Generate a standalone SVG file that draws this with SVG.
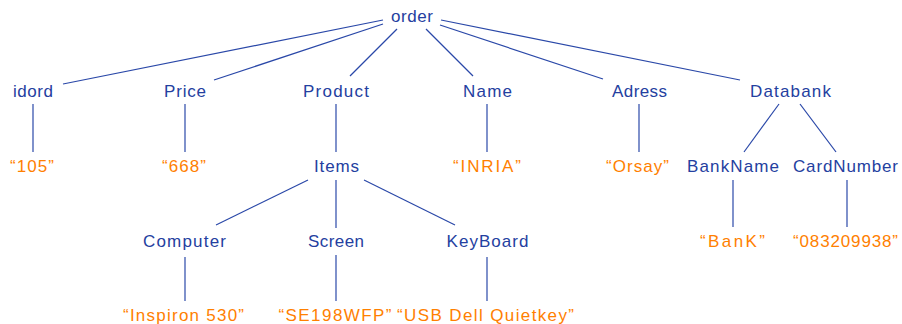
<svg xmlns="http://www.w3.org/2000/svg" width="902" height="324" viewBox="0 0 902 324">
<style>
text{font-family:"Liberation Sans","DejaVu Sans",sans-serif;font-size:17px;text-anchor:middle}
.n{fill:#2440a0}
.v{fill:#ff8000}
#edges line{stroke:#2a48a8;stroke-width:1.2}
</style>
<rect width="902" height="324" fill="#fff"/>
<g id="edges">
<line x1="383" y1="20" x2="63" y2="84"/>
<line x1="383" y1="24" x2="214" y2="80"/>
<line x1="397" y1="29" x2="350" y2="76"/>
<line x1="426" y1="29" x2="473" y2="76"/>
<line x1="440" y1="25" x2="603" y2="79"/>
<line x1="441" y1="20" x2="740" y2="80"/>
<line x1="33" y1="104" x2="33" y2="152"/>
<line x1="185" y1="104" x2="185" y2="152"/>
<line x1="336" y1="104" x2="336" y2="152"/>
<line x1="487" y1="104" x2="487" y2="152"/>
<line x1="639" y1="104" x2="639" y2="152"/>
<line x1="779" y1="104" x2="744" y2="152"/>
<line x1="800" y1="104" x2="836" y2="152"/>
<line x1="308" y1="180" x2="216" y2="225"/>
<line x1="336" y1="180" x2="336" y2="228"/>
<line x1="364" y1="180" x2="455" y2="225"/>
<line x1="185" y1="257" x2="185" y2="301"/>
<line x1="336" y1="255" x2="336" y2="301"/>
<line x1="487" y1="257" x2="487" y2="301"/>
<line x1="733" y1="180" x2="733" y2="227"/>
<line x1="847" y1="180" x2="847" y2="227"/>
</g>
<g id="order"><text class="n" x="412" y="22" textLength="42">order</text></g>
<g id="idord"><text class="n" x="33" y="97" textLength="40">idord</text></g>
<g id="price"><text class="n" x="185" y="97" textLength="42">Price</text></g>
<g id="product"><text class="n" x="336" y="97" textLength="66">Product</text></g>
<g id="name"><text class="n" x="487.5" y="97" textLength="49">Name</text></g>
<g id="adress"><text class="n" x="639.5" y="97" textLength="55">Adress</text></g>
<g id="databank"><text class="n" x="790.5" y="97" textLength="81">Databank</text></g>
<g id="v105"><text class="v" x="32" y="172" textLength="44">“105”</text></g>
<g id="v668"><text class="v" x="184" y="172" textLength="44">“668”</text></g>
<g id="items"><text class="n" x="336.5" y="172" textLength="45">Items</text></g>
<g id="vinria"><text class="v" x="487" y="172" textLength="68">“INRIA”</text></g>
<g id="vorsay"><text class="v" x="637.5" y="172" textLength="63">“Orsay”</text></g>
<g id="bankname"><text class="n" x="733" y="172" textLength="92">BankName</text></g>
<g id="cardnumber"><text class="n" x="845.5" y="172" textLength="105">CardNumber</text></g>
<g id="computer"><text class="n" x="184.5" y="247" textLength="83">Computer</text></g>
<g id="screen"><text class="n" x="336" y="247" textLength="56">Screen</text></g>
<g id="keyboard"><text class="n" x="487.5" y="247" textLength="82">KeyBoard</text></g>
<g id="vbank"><text class="v" x="732.5" y="247" textLength="65">“BanK”</text></g>
<g id="vcard"><text class="v" x="845.5" y="247" textLength="105">“083209938”</text></g>
<g id="vinspiron"><text class="v" x="183.5" y="321" textLength="121">“Inspiron 530”</text></g>
<g id="vscreen"><text class="v" x="335" y="321" textLength="113">“SE198WFP”</text></g>
<g id="vkeyboard"><text class="v" x="485.5" y="321" textLength="177">“USB Dell Quietkey”</text></g>
</svg>
